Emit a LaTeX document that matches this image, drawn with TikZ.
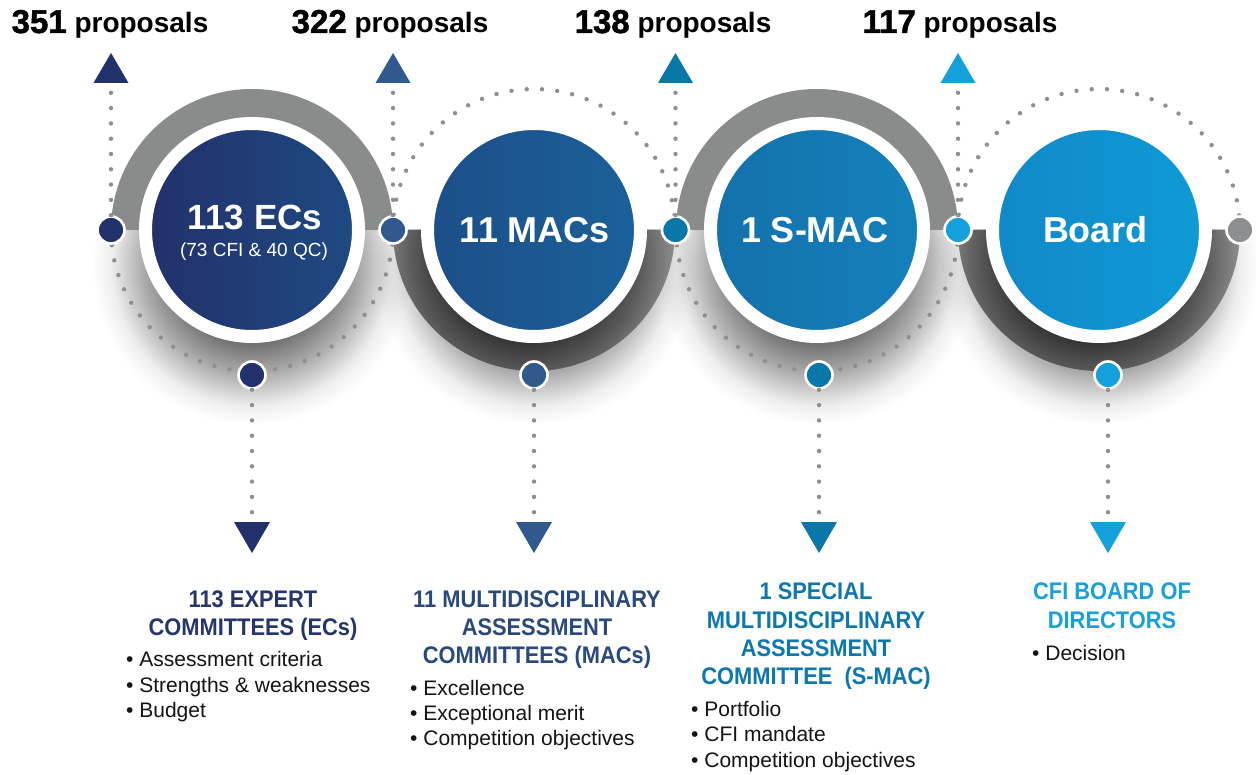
\documentclass[tikz,border=0pt]{standalone}
\usepackage{fontspec}
\setmainfont{Liberation Sans}
\newfontfamily\headfont[FakeStretch=0.91]{Liberation Sans}
\newfontfamily\heavyfont[FakeBold=1.5]{Liberation Sans Bold}
\usetikzlibrary{calc}
\definecolor{ringgray}{HTML}{8A8B8B}
\definecolor{dotgray}{HTML}{8E8F93}
\definecolor{shA}{HTML}{6E6E6E}
\definecolor{shB}{HTML}{ABABAB}
\definecolor{shC}{HTML}{EEEEEE}
\definecolor{rgA}{HTML}{363636}
\definecolor{rgB}{HTML}{5C5C5C}
\definecolor{cEC}{HTML}{22316B}
\definecolor{cMAC}{HTML}{305A8E}
\definecolor{cSM}{HTML}{0A77A9}
\definecolor{cBD}{HTML}{14A0DB}
\definecolor{ecL}{HTML}{23306A}
\definecolor{ecR}{HTML}{1E4A82}
\definecolor{macL}{HTML}{1D4E89}
\definecolor{macR}{HTML}{1A6199}
\definecolor{smL}{HTML}{1470AA}
\definecolor{smR}{HTML}{1481BC}
\definecolor{bdL}{HTML}{1188C8}
\definecolor{bdR}{HTML}{0E9BD6}
\definecolor{hEC}{HTML}{25366C}
\definecolor{hMAC}{HTML}{2A4A7E}
\definecolor{hSM}{HTML}{0C78AE}
\definecolor{hBD}{HTML}{17A0DC}
\definecolor{bodytext}{HTML}{141414}
\pgfdeclareradialshading{softshadow}{\pgfpointorigin}{color(0bp)=(shA); color(12bp)=(shA); color(17bp)=(shB); color(22bp)=(shC); color(25bp)=(white); color(50bp)=(white)}
\pgfdeclareradialshading{ringshade}{\pgfpointorigin}{color(0bp)=(rgA); color(12bp)=(rgA); color(16.5bp)=(rgB); color(21bp)=(ringgray); color(50bp)=(ringgray)}
\begin{document}
\begin{tikzpicture}[x=1pt,y=-1pt,
  dotline/.style={draw=dotgray, line width=4.4pt, line cap=round, dash pattern=on 0pt off 15.3pt},
  sdot/.style={circle, draw=white, line width=2.6pt, minimum size=27pt, inner sep=0pt},
  bigc/.style={circle, draw=white, line width=13pt, minimum size=213pt, inner sep=0pt},
  ctext/.style={text=white, font=\bfseries\fontsize{36}{40}\selectfont, anchor=base, inner sep=0pt},
  toplab/.style={anchor=base, font=\bfseries\fontsize{28}{32}\selectfont, text=black, inner sep=0pt},
  head/.style={anchor=base, font=\headfont\bfseries\fontsize{24}{28}\selectfont, inner sep=0pt},
  bul/.style={anchor=base west, font=\fontsize{21}{25}\selectfont, text=bodytext, inner sep=0pt}]
\useasboundingbox (0,0) rectangle (1256,775);
\fill[white] (0,0) rectangle (1256,775);
% shadows
\begin{scope}[blend mode=multiply]
\foreach \cx in {252,534,817,1099}{
  \begin{scope}
  \clip (\cx-190,230) rectangle (\cx+190,460);
  \shade[shading=softshadow] (\cx,265) circle (160pt);
  \end{scope}}
\end{scope}
% gray rings (top, flat)
\fill[ringgray] (111,230) arc[start angle=180,end angle=0,radius=141pt] -- (362,230) arc[start angle=0,end angle=180,radius=110pt] -- cycle;
\fill[ringgray] (676,230) arc[start angle=180,end angle=0,radius=141pt] -- (927,230) arc[start angle=0,end angle=180,radius=110pt] -- cycle;
% gray rings (bottom, shaded)
\begin{scope}
\clip (393,230) arc[start angle=180,end angle=360,radius=141pt] -- (644,230) arc[start angle=0,end angle=-180,radius=110pt] -- cycle;
\shade[shading=ringshade] (526,258) circle (175pt);
\end{scope}
\begin{scope}
\clip (958,230) arc[start angle=180,end angle=360,radius=141pt] -- (1209,230) arc[start angle=0,end angle=-180,radius=110pt] -- cycle;
\shade[shading=ringshade] (1091,258) circle (175pt);
\end{scope}
% dotted arcs
\draw[dotline] (111,230) arc[start angle=180,end angle=360,radius=141pt];
\draw[dotline] (393,230) arc[start angle=180,end angle=0,radius=141pt];
\draw[dotline] (676,230) arc[start angle=180,end angle=360,radius=141pt];
\draw[dotline] (958,230) arc[start angle=180,end angle=0,radius=141pt];
% main circles
\node[bigc, left color=ecL, right color=ecR] (ec) at (252,230) {};
\node[bigc, left color=macL, right color=macR] (mac) at (534,230) {};
\node[bigc, left color=smL, right color=smR] (smac) at (817,230) {};
\node[bigc, left color=bdL, right color=bdR] (board) at (1099,230) {};
\node[ctext, font=\bfseries\fontsize{35}{40}\selectfont] (ect) at (255,230) {113 ECs};
\node[anchor=base, text=white, inner sep=0pt, font=\fontsize{19}{22}\selectfont] (ecs) at (254,257) {(73 CFI \& 40 QC)};
\node[ctext] (mact) at (535,243) {11 MACs};
\node[ctext] (smact) at (815,243) {1 S-MAC};
\node[ctext] (bdt) at (1095,243) {Board};
% vertical connectors
\coordinate (u1) at (111,89);
\coordinate (u2) at (393,89);
\coordinate (u3) at (675.5,89);
\coordinate (u4) at (958,89);
\coordinate (v1) at (252,516);
\coordinate (v2) at (534,516);
\coordinate (v3) at (819,516);
\coordinate (v4) at (1108,516);
\node[sdot, fill=cEC] (l1) at (111,230) {};
\node[sdot, fill=cMAC] (l2) at (393,230) {};
\node[sdot, fill=cSM] (l3) at (675.5,230) {};
\node[sdot, fill=cBD] (l4) at (958,230) {};
\node[sdot, fill=dotgray] (l5) at (1240,230) {};
\node[sdot, fill=cEC] (b1) at (252,375) {};
\node[sdot, fill=cMAC] (b2) at (534,375) {};
\node[sdot, fill=cSM] (b3) at (819,375) {};
\node[sdot, fill=cBD] (b4) at (1108,375) {};
\draw[dotline] (l1) -- (u1);
\draw[dotline] (l2) -- (u2);
\draw[dotline] (l3) -- (u3);
\draw[dotline] (l4) -- (u4);
\draw[dotline] (b1) -- (v1);
\draw[dotline] (b2) -- (v2);
\draw[dotline] (b3) -- (v3);
\draw[dotline] (b4) -- (v4);
% triangles
\fill[cEC] (93.5,83) -- (128.5,83) -- (111,53) -- cycle;
\fill[cMAC] (375.5,83) -- (410.5,83) -- (393,53) -- cycle;
\fill[cSM] (658,83) -- (693,83) -- (675.5,53) -- cycle;
\fill[cBD] (940.5,83) -- (975.5,83) -- (958,53) -- cycle;
\fill[cEC] (234,522) -- (270,522) -- (252,553) -- cycle;
\fill[cMAC] (516,522) -- (552,522) -- (534,553) -- cycle;
\fill[cSM] (801,522) -- (837,522) -- (819,553) -- cycle;
\fill[cBD] (1090,522) -- (1126,522) -- (1108,553) -- cycle;
% top labels
\node[toplab] (p1) at (110,33) {{\heavyfont\mdseries\fontsize{33}{36}\selectfont 351} proposals};
\node[toplab] (p2) at (390,33) {{\heavyfont\mdseries\fontsize{33}{36}\selectfont 322} proposals};
\node[toplab] (p3) at (673,33) {{\heavyfont\mdseries\fontsize{33}{36}\selectfont 138} proposals};
\node[toplab] (p4) at (960,33) {{\heavyfont\mdseries\fontsize{33}{36}\selectfont 117} proposals};
% EC text
\node[head, text=hEC] (eh1) at (253,607) {113 EXPERT};
\node[head, text=hEC] (eh2) at (253,635) {COMMITTEES (ECs)};
\node[bul] (eb1) at (126,666) {\textbullet\ Assessment criteria};
\node[bul] (eb2) at (126,692) {\textbullet\ Strengths \& weaknesses};
\node[bul] (eb3) at (126,717) {\textbullet\ Budget};
% MAC text
\node[head, text=hMAC] (mh1) at (537,607) {11 MULTIDISCIPLINARY};
\node[head, text=hMAC] (mh2) at (537,635) {ASSESSMENT};
\node[head, text=hMAC] (mh3) at (537,663) {COMMITTEES (MACs)};
\node[bul] (mb1) at (410,695) {\textbullet\ Excellence};
\node[bul] (mb2) at (410,720) {\textbullet\ Exceptional merit};
\node[bul] (mb3) at (410,745) {\textbullet\ Competition objectives};
% S-MAC text
\node[head, text=hSM] (sh1) at (816,599) {1 SPECIAL};
\node[head, text=hSM] (sh2) at (816,628) {MULTIDISCIPLINARY};
\node[head, text=hSM] (sh3) at (816,656) {ASSESSMENT};
\node[head, text=hSM] (sh4) at (816,684) {COMMITTEE\ \ (S-MAC)};
\node[bul] (sb1) at (691,716) {\textbullet\ Portfolio};
\node[bul] (sb2) at (691,741) {\textbullet\ CFI mandate};
\node[bul] (sb3) at (691,767) {\textbullet\ Competition objectives};
% Board text
\node[head, text=hBD] (bh1) at (1112,599) {CFI BOARD OF};
\node[head, text=hBD] (bh2) at (1112,628) {DIRECTORS};
\node[bul] (bb1) at (1032,660) {\textbullet\ Decision};
\end{tikzpicture}
\end{document}
